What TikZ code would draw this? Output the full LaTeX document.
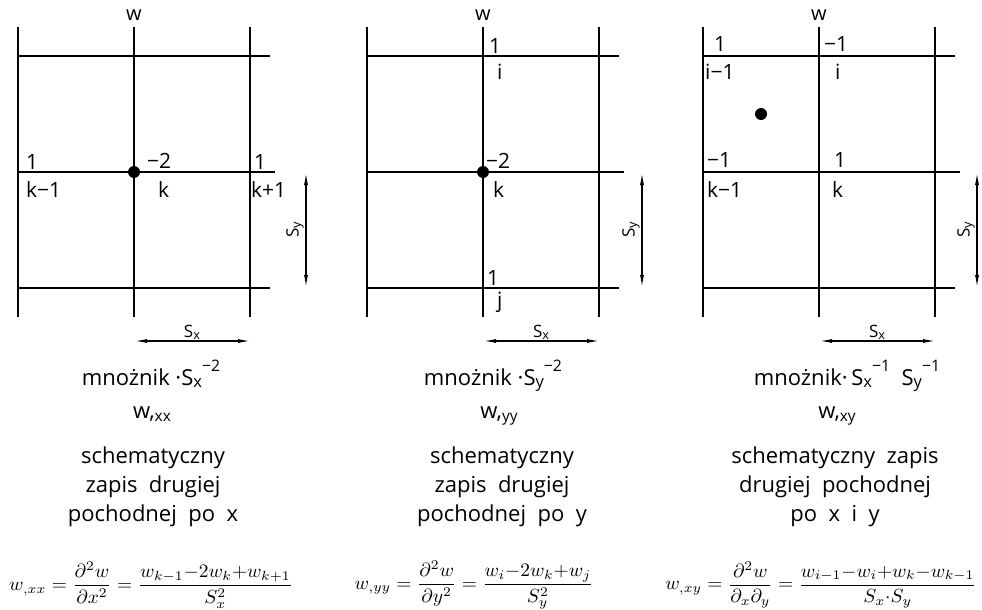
\documentclass[tikz,border=0pt]{standalone}
\usepackage{amsmath}
\usepackage{fontspec}
\setmainfont{Open Sans}
\usepackage{graphicx}
\usetikzlibrary{arrows.meta}

\newcommand{\Sind}[1]{S\raisebox{-0.12em}{\scalebox{0.75}{#1}}}
\newcommand{\Spow}[1]{\raisebox{0.6em}{\scalebox{0.72}{#1}}}
\newcommand{\wder}[1]{w,\raisebox{-0.15em}{\scalebox{0.7}{#1}}}
\newcommand{\bigeq}[1]{\scalebox{1.95}[1.9]{$\displaystyle #1$}}

\begin{document}
\begin{tikzpicture}[x=1pt, y=-1pt,
  gridline/.style={line width=1.3pt},
  dim/.style={{Latex[length=12pt,width=4pt]}-{Latex[length=12pt,width=4pt]}, line width=1.1pt},
  nodedot/.style={circle, fill, inner sep=0pt, minimum size=12pt},
  num/.style={font=\fontsize{21}{21}\selectfont, inner sep=0pt, anchor=base west},
  axis/.style={font=\fontsize{20}{20}\selectfont, inner sep=0pt, anchor=base},
  dimtxt/.style={font=\fontsize{17}{17}\selectfont, inner sep=0pt},
  caption/.style={font=\fontsize{22}{29}\selectfont, inner sep=0pt, align=center},
  formula/.style={inner sep=0pt},
]
\useasboundingbox (0,0) rectangle (982,610);

% === Grids and dimension arrows ===
\foreach \ox/\sx/\n in {18/306/1, 367/642/2, 703/977/3}{
  \foreach \i in {0,1,2}
    \draw[gridline] (\ox+116*\i,27) -- (\ox+116*\i,317);
  \draw[gridline] (\ox,56) -- (\ox+252,56);
  \draw[gridline] (\ox,172) -- (\ox+257,172);
  \draw[gridline] (\ox,288) -- (\ox+252,288);
  \node[axis] (w\n) at (\ox+116,21) {w};
  % Sy
  \coordinate (sytop\n) at (\sx,173);
  \coordinate (sybot\n) at (\sx,287);
  \draw[dim] (sytop\n) -- (sybot\n);
  \node[dimtxt, rotate=90] (sy\n) at (\sx-11,230) {\Sind{y}};
  % Sx
  \coordinate (sxl\n) at (\ox+117,341);
  \coordinate (sxr\n) at (\ox+232,341);
  \draw[dim] (sxl\n) -- (sxr\n);
  \node[dimtxt, anchor=base] (sx\n) at (\ox+174,337) {\Sind{x}};
}

% === Panel 1: w,xx ===
\node[nodedot] (dotxx) at (134,172) {};
\node[num] (a1) at (26,169) {1};
\node[num] (a2) at (26,197) {k−1};
\node[num] (a3) at (147,168) {−2};
\node[num] (a4) at (158,197) {k};
\node[num] (a5) at (254,169) {1};
\node[num] (a6) at (251,197) {k+1};

\node[caption, anchor=base] (mxx) at (151,385) {mnożnik ·\Sind{x}\Spow{−2}};
\node[caption, anchor=base] (wxx) at (152,418) {\wder{xx}};
\node[caption, anchor=north] (txx) at (153,447) {schematyczny\\zapis\ \ drugiej\\pochodnej\ \ po\ \ x};
\node[formula] (fxx) at (151,585)
  {\bigeq{w_{,xx}=\frac{\partial^2 w}{\partial x^2}=\frac{w_{k-1}{-}2w_k{+}w_{k+1}}{S_x^2}}};

% === Panel 2: w,yy ===
\node[nodedot] (dotyy) at (483,172) {};
\node[num] (b1) at (489,53) {1};
\node[num] (b2) at (497,80) {i};
\node[num] (b3) at (486,168) {−2};
\node[num] (b4) at (493,197) {k};
\node[num] (b5) at (487,285) {1};
\node[num] (b6) at (497,307) {j};

\node[caption, anchor=base] (myy) at (493,385) {mnożnik ·\Sind{y}\Spow{−2}};
\node[caption, anchor=base] (wyy) at (499,418) {\wder{yy}};
\node[caption, anchor=north] (tyy) at (502,447) {schematyczny\\zapis\ \ drugiej\\pochodnej\ \ po\ \ y};
\node[formula] (fyy) at (474,585)
  {\bigeq{w_{,yy}=\frac{\partial^2 w}{\partial y^2}=\frac{w_i{-}2w_k{+}w_j}{S_y^2}}};

% === Panel 3: w,xy ===
\node[nodedot] (dotxy) at (761,114) {};
\node[num] (c1) at (714,52) {1};
\node[num] (c2) at (824,52) {−1};
\node[num] (c3) at (705,80) {i−1};
\node[num] (c4) at (835,80) {i};
\node[num] (c5) at (707,167) {−1};
\node[num] (c6) at (834,167) {1};
\node[num] (c7) at (707,197) {k−1};
\node[num] (c8) at (832,197) {k};

\node[caption, anchor=base] (mxy) at (847,385) {mnożnik·\,\Sind{x}\Spow{−1}\ \ \Sind{y}\Spow{−1}};
\node[caption, anchor=base] (wxy) at (837,418) {\wder{xy}};
\node[caption, anchor=north] (txy) at (835,447) {schematyczny\ \ zapis\\drugiej\ \ pochodnej\\po\ \ x\ \ i\ \ y};
\node[formula] (fxy) at (821,585)
  {\bigeq{w_{,xy}=\frac{\partial^2 w}{\partial_x\partial_y}=\frac{w_{i-1}{-}w_i{+}w_k{-}w_{k-1}}{S_x{\cdot}S_y}}};

\end{tikzpicture}
\end{document}
